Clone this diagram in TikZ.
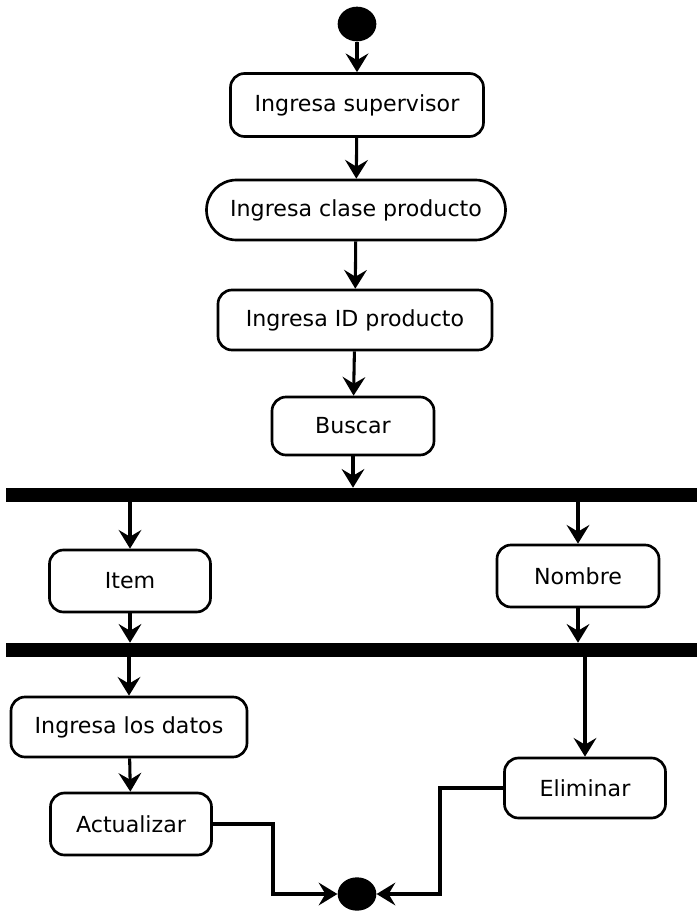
\documentclass[tikz,border=0pt]{standalone}
\usepackage{fontspec}
\setmainfont{DejaVu Sans}
\usetikzlibrary{arrows.meta,shapes.geometric}
\begin{document}
\begin{tikzpicture}[x=0.75pt,y=-0.75pt,
  act/.style={draw, line width=2pt, rounded corners=10.5pt, inner sep=0pt,
    font=\fontsize{16.6}{19}\selectfont},
  bar/.style={fill=black, inner sep=0pt, minimum width=518.25pt, minimum height=10.5pt},
  dot/.style={ellipse, fill=black, inner sep=0pt},
  flow/.style={line width=2.3pt, -{Stealth[length=14pt,width=17pt,inset=5pt]}}]
\useasboundingbox (0,0) rectangle (697,913);

% initial and final states
\node[dot, minimum width=29pt, minimum height=26pt] (start) at (357,24) {};
\node[dot, minimum width=29pt, minimum height=25pt] (fin) at (357,894) {};

% main sequence of actions
\node[act, minimum width=189.75pt, minimum height=47.25pt] (sup) at (357,105) {Ingresa supervisor};
\node[act, minimum width=224.25pt, minimum height=45pt, rounded corners=22.5pt] (clase) at (356,210) {Ingresa clase producto};
\node[act, minimum width=205.5pt, minimum height=45pt] (idp) at (355,320) {Ingresa ID producto};
\node[act, minimum width=121.5pt, minimum height=43.5pt] (buscar) at (353,426) {Buscar};

% fork / join bars
\node[bar] (bar1) at (351.5,495) {};
\node[bar] (bar2) at (351.5,650) {};

% branches
\node[act, minimum width=120.75pt, minimum height=46.5pt] (item) at (130,581) {Item};
\node[act, minimum width=121.5pt, minimum height=46.5pt] (nombre) at (578,576) {Nombre};
\node[act, minimum width=177pt, minimum height=45pt] (datos) at (129,727) {Ingresa los datos};
\node[act, minimum width=120.75pt, minimum height=46.5pt] (actu) at (131,824) {Actualizar};
\node[act, minimum width=120.75pt, minimum height=45pt] (elim) at (585,788) {Eliminar};

% bends of the final connectors
\coordinate (j1) at (273,894);
\coordinate (j2) at (440,894);

% flows
\draw[flow] (start) -- (sup);
\draw[flow] (sup) -- (clase);
\draw[flow] (clase) -- (idp);
\draw[flow] (idp) -- (buscar);
\draw[flow] (buscar.south) -- (buscar.south |- bar1.north);
\draw[flow] (bar1.south -| item.north) -- (item.north);
\draw[flow] (bar1.south -| nombre.north) -- (nombre.north);
\draw[flow] (item.south) -- (item.south |- bar2.north);
\draw[flow] (nombre.south) -- (nombre.south |- bar2.north);
\draw[flow] (bar2.south -| datos.north) -- (datos.north);
\draw[flow] (bar2.south -| elim.north) -- (elim.north);
\draw[flow] (datos) -- (actu);
\draw[flow] (actu.east) -| (j1) -- (fin.west);
\draw[flow] (elim.west) -| (j2) -- (fin.east);
\end{tikzpicture}
\end{document}
